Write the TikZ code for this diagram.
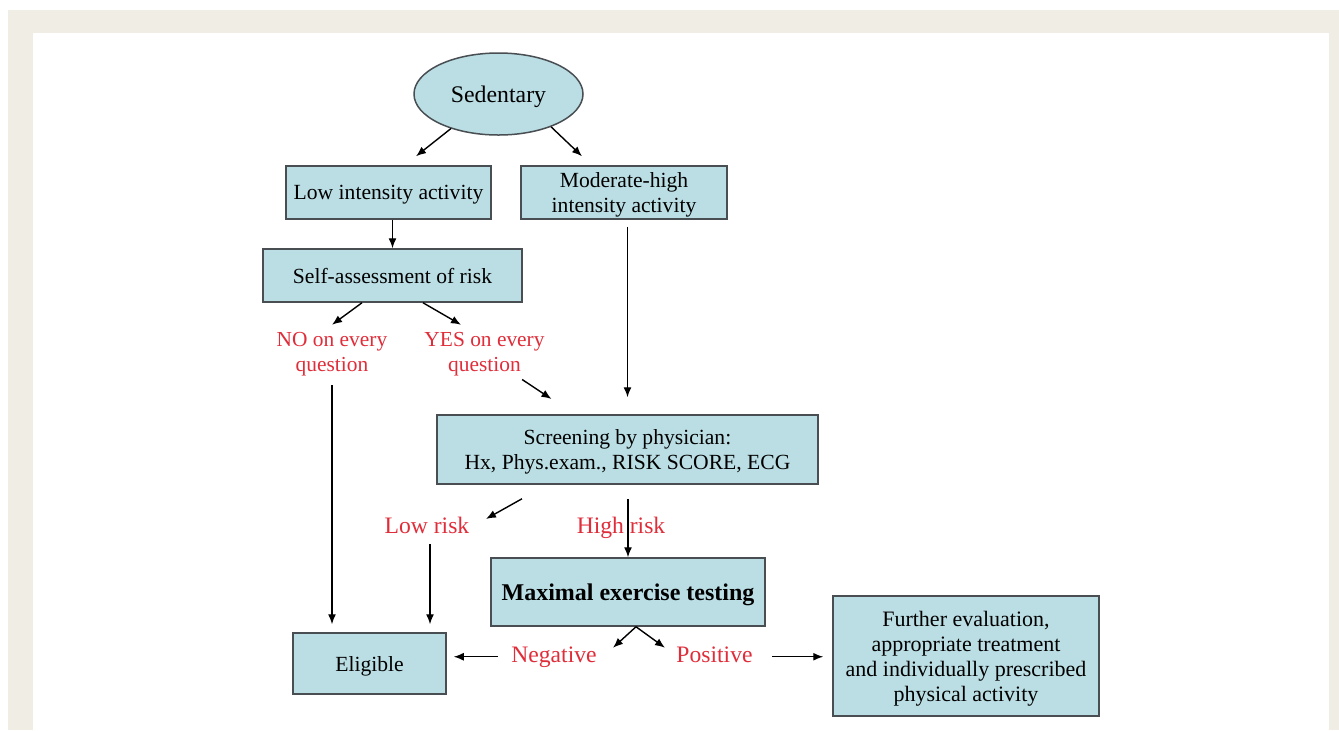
\documentclass[tikz,border=0pt]{standalone}
\usepackage{fontspec}
\setmainfont{Liberation Serif}
\usepackage{tikz}
\usepackage{xcolor}
\usetikzlibrary{
    arrows.meta,
    shapes.geometric,
    calc,
    positioning
}
\definecolor{boxblue}{RGB}{186,222,228}
\definecolor{boxline}{RGB}{72,78,82}
\definecolor{labred}{RGB}{224,45,58}
\definecolor{framebg}{RGB}{239,237,228}
\tikzset{bbox/.style={rectangle, draw=boxline, fill=boxblue, line width=0.75pt, inner sep=0pt, text depth=0pt, align=center, font=\fontsize{10.8}{12.8}\selectfont}}
\tikzset{bell/.style={ellipse, draw=boxline, fill=boxblue, line width=0.75pt, inner sep=0pt, text depth=0pt, font=\fontsize{11.9}{14}\selectfont}}
\tikzset{rlab/.style={inner sep=0pt, align=center, text=labred, font=\fontsize{10.7}{12.5}\selectfont}}
\tikzset{rbig/.style={inner sep=0pt, anchor=base, text=labred, font=\fontsize{11.8}{14}\selectfont}}

\begin{document}
\begin{tikzpicture}[x=0.5pt, y=-0.5pt, >={Latex[length=5pt, width=4pt]}, line width=0.7pt]
                    \useasboundingbox (0, 0) rectangle (1339, 730);
                    \fill[white] (0, 0) rectangle (1339, 730);
                    \fill[framebg] (8, 10) rectangle (1339, 730);
                    \fill[white] (33, 33) rectangle (1329, 730);

                    \node[bell, minimum width=84.5pt, minimum height=41pt] (sed) at (498.5, 94) {Sedentary};
                    \node[bbox, minimum width=102.5pt, minimum height=26.5pt] (low) at (388.5, 192.5) {Low intensity activity};
                    \node[bbox, minimum width=103pt, minimum height=26.5pt] (mod) at (624, 192.5) {Moderate-high\\intensity activity};
                    \node[bbox, minimum width=129.5pt, minimum height=26.5pt] (self) at (392.5, 275.5) {Self-assessment of risk};

                    \node[rlab] (no) at (332, 354.5) {NO on every\\question};
                    \node[rlab] (yes) at (484.5, 354.5) {YES on every\\question};

                    \node[bbox, minimum width=190.5pt, minimum height=34.5pt] (scr) at (627.5, 449.5) {Screening by physician:\\Hx, Phys.exam., RISK SCORE, ECG};

                    \node[rbig] (lowr) at (427, 533) {Low risk};
                    \node[rbig] (highr) at (621, 533) {High risk};

                    \node[bbox, minimum width=137pt, minimum height=34pt, font=\fontsize{12}{14}\selectfont\bfseries] (max) at (628, 592) {Maximal exercise testing};
                    \node[bbox, minimum width=76.5pt, minimum height=30.5pt] (elig) at (369.5, 663.5) {Eligible};
                    \node[rbig] (neg) at (554, 662) {Negative};
                    \node[rbig] (pos) at (714.5, 662) {Positive};
                    \node[bbox, minimum width=133pt, minimum height=60pt, font=\fontsize{11}{12.5}\selectfont] (fur) at (966, 656) {Further evaluation,\\appropriate treatment\\and individually prescribed\\physical activity};

                    \draw
                    (sed.216) edge[->] ([xshift=13.75pt, yshift=4.5pt]low.north)
                    (sed.328) edge[->] ([xshift=-21pt, yshift=4.5pt]mod.north)
                    (self.north |- low.south) edge[->] (self.north)
                    ([xshift=-15.25pt]self.south) edge[->] ([xshift=-30.25pt, yshift=-11pt]self.south)
                    ([xshift=15.25pt]self.south) edge[->] ([xshift=34.25pt, yshift=-11pt]self.south);

                    \draw
                    (no.south) edge[->, shorten <=4.2pt, shorten >=4pt] (no.south |- elig.north)
                    (yes) edge[->, shorten <=2.2pt, shorten >=13.8pt] (scr)
                    (scr.north |- mod.south) edge[->, shorten <=3.5pt, shorten >=8.5pt] (scr.north);

                    \draw
                    ([xshift=-52.75pt, yshift=-7pt]scr.south) edge[->] ([xshift=8pt, yshift=3pt]lowr.east)
                    (max.north |- scr.south) edge[->, shorten <=7pt] (max.north)
                    ([xshift=1.5pt]lowr.south) edge[->, shorten <=5pt, shorten >=4pt] ([xshift=1.5pt]lowr.south |- elig.north);

                    \draw
                    ([xshift=4pt]max.south) edge[->] ([xshift=-7.5pt, yshift=-10.5pt]max.south)
                    ([xshift=4pt]max.south) edge[->] ([xshift=18.5pt, yshift=-10.5pt]max.south)
                    (neg.west) edge[->, shorten <=6.5pt, shorten >=3.5pt] (neg.west -| elig.east)
                    (pos.east |- neg.west) edge[->, shorten <=9.5pt, shorten >=4.5pt] (fur.west |- neg.west);
                \end{tikzpicture}
\end{document}
